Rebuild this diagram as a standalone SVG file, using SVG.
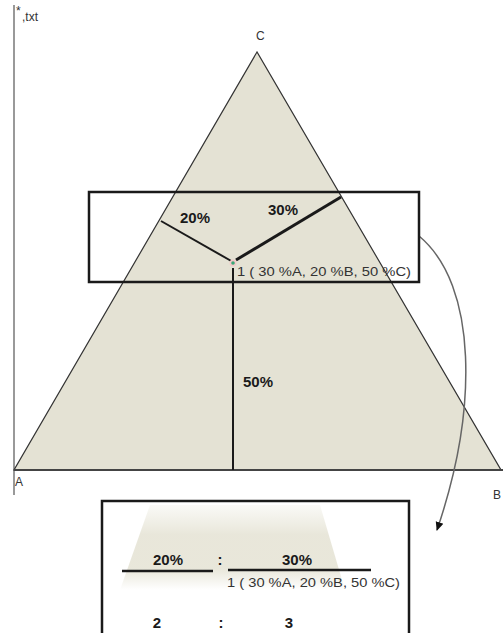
<svg xmlns="http://www.w3.org/2000/svg" width="503" height="633" viewBox="0 0 503 633">
<style>
.lbl{font-family:"Liberation Sans",Arial,sans-serif;font-weight:bold;font-size:15px;fill:#1a1a1a}
.pt{font-family:"Liberation Sans",Arial,sans-serif;font-size:13px;fill:#333}
.sm{font-family:"Liberation Sans",Arial,sans-serif;font-size:12px;fill:#333}
.box{fill:none;stroke:#1a1a1a;stroke-width:2.5}
.ln{stroke:#1a1a1a;stroke-linecap:butt}
</style>
<defs>
<linearGradient id="fade" x1="0" y1="0" x2="0" y2="1">
<stop offset="0" stop-color="#e6e4d6" stop-opacity="0.2"/>
<stop offset="0.35" stop-color="#e6e4d6" stop-opacity="0.9"/>
<stop offset="0.75" stop-color="#e6e4d6" stop-opacity="0.9"/>
<stop offset="1" stop-color="#e6e4d6" stop-opacity="0"/>
</linearGradient>
<marker id="arr" markerWidth="10" markerHeight="10" refX="8" refY="5" orient="auto" markerUnits="userSpaceOnUse">
<path d="M0,1 L9,5 L0,9 Z" fill="#111"/>
</marker>
</defs>
<rect width="503" height="633" fill="#ffffff"/>
<g id="frame">
<line x1="14" y1="5" x2="14" y2="495" stroke="#777" stroke-width="1.5"/>
<text x="16" y="15" class="sm" font-size="9">*</text>
<text x="22" y="21" class="sm">,txt</text>
</g>
<g id="triangle">
<polygon points="257,52 14,470 501,470" fill="#e4e2d4" stroke="#333" stroke-width="1.2"/>
<line x1="14" y1="470" x2="503" y2="470" stroke="#444" stroke-width="2"/>
<text x="256" y="40" class="sm">C</text>
<text x="15" y="486" class="sm">A</text>
<text x="493" y="499" class="sm">B</text>
</g>
<g id="connectors">
<line class="ln" x1="233" y1="262" x2="161" y2="221" stroke-width="2"/>
<line class="ln" x1="236" y1="260" x2="341" y2="197" stroke-width="3"/>
<line class="ln" x1="233" y1="268" x2="233" y2="470" stroke-width="2"/>
<path d="M419,236 C478,285 478,410 437,530" fill="none" stroke="#666" stroke-width="1.5" marker-end="url(#arr)"/>
</g>
<g id="zoom-box">
<rect class="box" x="89" y="192" width="330" height="90"/>
<circle cx="233" cy="263" r="3.5" fill="#f3c9c9"/>
<circle cx="233" cy="263" r="1.8" fill="#3aa878"/>
<text x="180" y="223" class="lbl">20%</text>
<text x="268" y="215" class="lbl">30%</text>
<text x="237" y="276" class="pt" textLength="174" lengthAdjust="spacingAndGlyphs">1 ( 30 %A, 20 %B, 50 %C)</text>
</g>
<g id="label-50">
<text x="243" y="387" class="lbl">50%</text>
</g>
<g id="ratio-box">
<polygon points="150,505 320,505 345,590 120,590" fill="url(#fade)"/>
<rect class="box" x="102" y="501" width="307" height="134"/>
<line class="ln" x1="122" y1="571" x2="213" y2="571" stroke-width="2.5"/>
<line class="ln" x1="228" y1="570" x2="371" y2="570" stroke-width="2.5"/>
<text x="168" y="565" class="lbl" text-anchor="middle">20%</text>
<text x="220" y="565" class="lbl" text-anchor="middle">:</text>
<text x="297" y="565" class="lbl" text-anchor="middle">30%</text>
<text x="227" y="587" class="pt" textLength="173" lengthAdjust="spacingAndGlyphs">1 ( 30 %A, 20 %B, 50 %C)</text>
<text x="157" y="628" class="lbl" text-anchor="middle">2</text>
<text x="221" y="628" class="lbl" text-anchor="middle">:</text>
<text x="289" y="628" class="lbl" text-anchor="middle">3</text>
</g>
</svg>
